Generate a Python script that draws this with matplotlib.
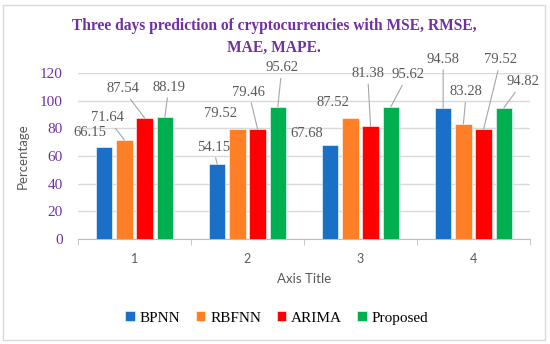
import matplotlib
matplotlib.use("Agg")
import matplotlib.pyplot as plt
import matplotlib.patches as patches
import numpy as np

# data
categories = ["1", "2", "3", "4"]
series_names = ["BPNN", "RBFNN", "ARIMA", "Proposed"]
bpnn = [66.15, 54.15, 67.68, 94.58]
rbfnn = [71.64, 79.52, 87.52, 83.28]
arima = [87.54, 79.46, 81.38, 79.52]
proposed = [88.19, 95.62, 95.62, 94.82]
colors = ["#1A70C6", "#FF7F27", "#FF0000", "#00B050"]
title_lines = ["Three days prediction of cryptocurrencies with MSE, RMSE,", "MAE, MAPE."]

# label placement (pixel offsets from bar top) and whether Excel drew a leader line
label_offsets = [
    [(-14, 15), (-4, 17), (-23, 12), (0, 49)],
    [(-17, 22), (-17, 15), (-17, 15), (3, 32)],
    [(-22, 29), (-9, 37), (-3, 53), (17, 69)],
    [(4, 30), (4, 39), (17, 32), (19, 26)],
]
leaders = [
    [False, True, False, True],
    [True, False, False, True],
    [True, True, True, True],
    [True, True, True, True],
]

purple = "#7030A0"
gray_txt = "#595959"
grid_c = "#D9D9D9"

fig = plt.figure(figsize=(5.5, 3.44), dpi=100)
ax = fig.add_axes([78 / 550, 1 - 239 / 344, 452 / 550, 166 / 344])

x = np.arange(len(categories))
step = 0.179
width = 0.146
all_series = [bpnn, rbfnn, arima, proposed]

for j, (vals, name, c) in enumerate(zip(all_series, series_names, colors)):
    xs = x + (j - 1.5) * step
    ax.bar(xs, vals, width, color=c, edgecolor="white", linewidth=0.4,
           label=name, zorder=3)
    for i, v in enumerate(vals):
        dx, dy = label_offsets[j][i]
        arrow = dict(arrowstyle="-", color="#A6A6A6", lw=0.8,
                     shrinkA=1, shrinkB=0) if leaders[j][i] else None
        ax.annotate(f"{v:.2f}", xy=(xs[i], v), xytext=(dx, dy),
                    textcoords="offset pixels", ha="center", va="center",
                    fontsize=10.5, family="Liberation Serif", color=gray_txt,
                    arrowprops=arrow, zorder=4, annotation_clip=False)

ax.set_xlim(-0.5, 3.5)
ax.set_ylim(0, 120)
ax.set_yticks(np.arange(0, 121, 20))
ax.yaxis.grid(True, color=grid_c, lw=1)
ax.set_axisbelow(True)

for s in ["left", "right", "top"]:
    ax.spines[s].set_visible(False)
ax.spines["bottom"].set_color("#BFBFBF")

ax.set_xticks(x)
ax.set_xticklabels(categories, family="Lato", fontsize=9, color=gray_txt)
ax.set_xticks(np.arange(-0.5, 3.6, 1), minor=True)
ax.tick_params(axis="x", which="major", length=0, pad=10)
ax.tick_params(axis="x", which="minor", length=4, color="#BFBFBF")
ax.tick_params(axis="y", length=0, pad=11)
for t in ax.get_yticklabels():
    t.set_family("Liberation Serif")
    t.set_fontsize(11)
    t.set_color(purple)

ax.set_ylabel("Percentage", family="Lato", fontsize=9.5, color=gray_txt, labelpad=8)
ax.set_xlabel("Axis Title", family="Lato", fontsize=9.5, color=gray_txt, labelpad=6)

# title drawn as two lines so each box stays tight
for line, ypix in zip(title_lines, [26, 48]):
    fig.text(274 / 550, 1 - ypix / 344, line, ha="center", va="center",
             family="Liberation Serif", fontweight="bold", fontsize=11.2,
             color=purple)

fig.legend(loc="center", bbox_to_anchor=(277 / 550, 1 - 318 / 344), ncol=4,
           frameon=False, prop={"family": "Liberation Serif", "size": 11},
           handlelength=0.6, handleheight=0.6, handletextpad=0.35,
           columnspacing=1.0)

fig.patches.append(patches.Rectangle((3 / 550, 4 / 344), 542 / 550, 335 / 344,
                                     transform=fig.transFigure, fill=False,
                                     edgecolor=grid_c, lw=1))

fig.savefig("out.png", dpi=100)
